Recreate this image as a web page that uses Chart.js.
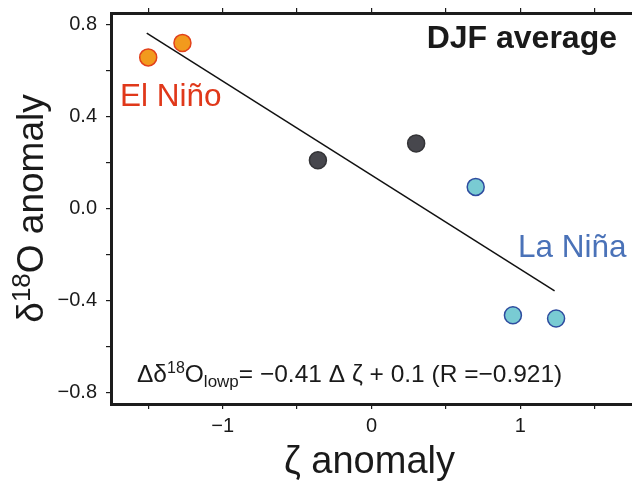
<!DOCTYPE html>
<html>
<head>
<meta charset="utf-8">
<script src="https://cdn.jsdelivr.net/npm/chart.js@4.4.1/dist/chart.umd.min.js"></script>
<style>
    html, body { margin: 0; padding: 0; background: #fff; }
    #wrap { width: 632px; height: 481px; }
</style>
</head>
<body>
<div id="wrap"><canvas id="djfChart" width="632" height="481"></canvas></div>
<script>
// El Niño years
const zetaElNino = [-1.50, -1.27];
const d18ElNino = [0.657, 0.720];
// neutral years
const zetaNeutral = [-0.36, 0.30];
const d18Neutral = [0.210, 0.283];
// La Niña years
const zetaLaNina = [0.70, 0.95, 1.24];
const d18LaNina = [0.094, -0.464, -0.478];
// regression line end points
const zetaFit = [-1.51, 1.23];
const d18Fit = [0.763, -0.358];

// tick positions and labels
const xTickValues = [-1.5, -1, -0.5, 0, 0.5, 1, 1.5];
const xTickLabels = ['', '−1', '', '0', '', '1', ''];
const yTickValues = [-0.8, -0.6, -0.4, -0.2, 0, 0.2, 0.4, 0.6, 0.8];
const yTickLabels = ['−0.8', '', '−0.4', '', '0.0', '', '0.4', '', '0.8'];

const FONT = '"Liberation Sans", Arial, Helvetica, sans-serif';

function toPoints(xs, ys) {
    return xs.map(function (x, i) { return { x: x, y: ys[i] }; });
}

function setTicks(values) {
    return function (scale) {
        scale.ticks = values.map(function (v) { return { value: v }; });
    };
}

function labelFor(values, labels) {
    return function (value) {
        const i = values.findIndex(function (v) { return Math.abs(v - value) < 1e-6; });
        return i >= 0 ? labels[i] : '';
    };
}

// fixed axis size, no extra padding for edge labels
function fixSize(prop, size) {
    return function (scale) {
        scale[prop] = size;
        scale.paddingTop = 0;
        scale.paddingBottom = 0;
        scale.paddingLeft = 0;
        scale.paddingRight = 0;
    };
}

// draws a run of text pieces (size, text, shift) starting at x
function drawRuns(ctx, runs, x, y, measureOnly) {
    let cx = x;
    runs.forEach(function (r) {
        ctx.font = (r.weight || '') + ' ' + r.size + 'px ' + FONT;
        if (!measureOnly) ctx.fillText(r.text, cx, y + (r.dy || 0));
        cx += ctx.measureText(r.text).width;
    });
    return cx - x;
}

const textPlugin = {
    id: 'textPlugin',
    afterDraw: function (chart) {
        const ctx = chart.ctx;
        const area = chart.chartArea;
        ctx.save();
        ctx.textBaseline = 'alphabetic';

        // panel title
        ctx.fillStyle = '#1a1a1a';
        ctx.textAlign = 'right';
        ctx.font = 'bold 32px ' + FONT;
        ctx.fillText('DJF average', 617, 48);

        // labels
        ctx.textAlign = 'left';
        ctx.font = '31.5px ' + FONT;
        ctx.fillStyle = '#E0381A';
        ctx.fillText('El Niño', 120, 106);
        ctx.fillStyle = '#4A72B8';
        ctx.fillText('La Niña', 518, 257);

        // regression equation
        ctx.fillStyle = '#1a1a1a';
        drawRuns(ctx, [
            { size: 24.5, text: 'Δδ' },
            { size: 16, text: '18', dy: -9 },
            { size: 24.5, text: 'O' },
            { size: 17, text: 'lowp', dy: 5 },
            { size: 24.5, text: '= −0.41 Δ ζ + 0.1 (R =−0.921)' }
        ], 137, 382);

        // x axis title
        ctx.textAlign = 'center';
        ctx.font = '38px ' + FONT;
        ctx.fillText('ζ anomaly', (area.left + area.right) / 2 - 2, 473);

        // y axis title (rotated, with superscript)
        ctx.textAlign = 'left';
        ctx.translate(43, (area.top + area.bottom) / 2);
        ctx.rotate(-Math.PI / 2);
        const yRuns = [
            { size: 37, text: 'δ' },
            { size: 26, text: '18', dy: -13 },
            { size: 37, text: 'O anomaly' }
        ];
        const w = drawRuns(ctx, yRuns, 0, 0, true);
        drawRuns(ctx, yRuns, -w / 2, 0);
        ctx.restore();
    }
};

const axisColor = '#1c1c1c';

function tickGrid() {
    return {
        display: true,
        drawOnChartArea: false,
        drawTicks: true,
        tickLength: 5,
        color: axisColor,
        lineWidth: 1.2
    };
}

const ctx = document.getElementById('djfChart').getContext('2d');
const djfChart = new Chart(ctx, {
    type: 'scatter',
    data: {
        datasets: [
            {
                label: 'fit',
                type: 'line',
                data: toPoints(zetaFit, d18Fit),
                borderColor: '#111',
                borderWidth: 1.5,
                pointRadius: 0,
                fill: false,
                order: 4
            },
            {
                label: 'El Niño',
                data: toPoints(zetaElNino, d18ElNino),
                backgroundColor: '#F29A1D',
                borderColor: '#E2411B',
                borderWidth: 1.5,
                pointRadius: 8.5,
                order: 1
            },
            {
                label: 'neutral',
                data: toPoints(zetaNeutral, d18Neutral),
                backgroundColor: '#47474D',
                borderColor: '#333336',
                borderWidth: 1.5,
                pointRadius: 8.5,
                order: 2
            },
            {
                label: 'La Niña',
                data: toPoints(zetaLaNina, d18LaNina),
                backgroundColor: '#79CBD3',
                borderColor: '#2E4C9F',
                borderWidth: 1.5,
                pointRadius: 8.5,
                order: 3
            }
        ]
    },
    options: {
        responsive: false,
        animation: false,
        layout: { padding: 0, autoPadding: false },
        plugins: {
            legend: { display: false },
            tooltip: { enabled: false }
        },
        scales: {
            x: {
                type: 'linear',
                position: 'bottom',
                min: -1.75,
                max: 1.75,
                afterBuildTicks: setTicks(xTickValues),
                afterFit: fixSize('height', 77),
                ticks: {
                    callback: labelFor(xTickValues, xTickLabels),
                    autoSkip: false,
                    maxRotation: 0,
                    padding: 5,
                    color: '#1a1a1a',
                    font: { family: FONT, size: 20 }
                },
                grid: tickGrid(),
                border: { display: true, width: 3, color: axisColor }
            },
            x2: {
                type: 'linear',
                position: 'top',
                min: -1.75,
                max: 1.75,
                afterBuildTicks: setTicks(xTickValues),
                afterFit: fixSize('height', 13),
                ticks: {
                    callback: function () { return ''; },
                    autoSkip: false,
                    padding: 0
                },
                grid: tickGrid(),
                border: { display: true, width: 3, color: axisColor }
            },
            y: {
                type: 'linear',
                position: 'left',
                min: -0.85,
                max: 0.85,
                afterBuildTicks: setTicks(yTickValues),
                afterFit: fixSize('width', 111),
                ticks: {
                    callback: labelFor(yTickValues, yTickLabels),
                    autoSkip: false,
                    padding: 9,
                    color: '#1a1a1a',
                    font: { family: FONT, size: 20 }
                },
                grid: tickGrid(),
                border: { display: true, width: 3, color: axisColor }
            }
        }
    },
    plugins: [textPlugin]
});
</script>
</body>
</html>
